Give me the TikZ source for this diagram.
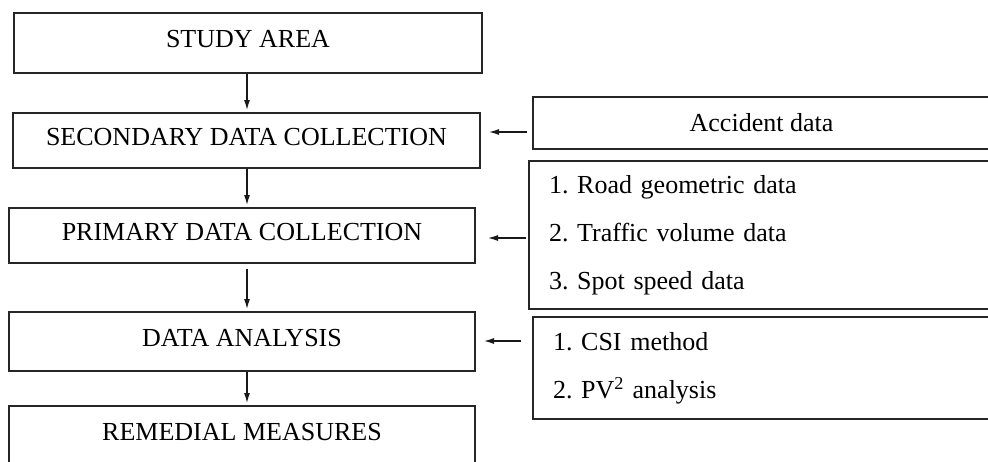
\documentclass[tikz,border=0pt]{standalone}
\usepackage{fontspec}
\setmainfont{Liberation Serif}
\frenchspacing
\usepackage{tikz}
\usetikzlibrary{
    arrows.meta,
    positioning,
    calc
}
\tikzset{
    % Base style for all boxes
    flow base/.style={
        font=\fontsize{26}{31}\selectfont,
        rectangle,
        draw=black!85,
        line width=2pt,
        inner sep=0pt,
    },
    % Stage boxes - left column
    stage/.style={
        flow base,
        align=center,
        text height=18pt,
        text depth=8pt,
        minimum width=467pt,
        minimum height=57pt,
    },
    % Input boxes - right column, single line
    input/.style={
        flow base,
        align=center,
        minimum width=457pt,
        minimum height=52pt,
    },
    % Input boxes - right column, numbered list
    input list/.style={
        flow base,
        font=\fontsize{26}{48}\selectfont,
        align=left,
        inner xsep=20pt,
    },
    % Plain arrow
    arrow/.style={
        -{Latex[length=10pt, width=6pt]},
        line width=1.2pt,
        draw=black!90,
    },
    % Side arrow from input box to stage box
    side arrow/.style={
        arrow,
        shorten >=8pt,
        shorten <=5pt,
    },
}

\begin{document}
\begin{tikzpicture}[x=1pt, y=-1pt]
    \path[use as bounding box] (0,0) rectangle (988,461);
    \clip (0,0) rectangle (988,461);

    % left column
    \node (study) [stage, minimum width=468pt, minimum height=60pt] at (248,42.5) {STUDY AREA};
    \node (secondary) [stage, minimum height=55pt] at (246.5,140.5) {SECONDARY DATA COLLECTION};
    \node (primary) [stage, minimum width=466pt, minimum height=55pt] at (242,235.5) {PRIMARY DATA COLLECTION};
    \node (analysis) [stage, minimum width=466pt, minimum height=59pt] at (242,341.5) {DATA ANALYSIS};
    \node (remedial) [stage, minimum width=466pt, minimum height=58pt] at (242,435) {REMEDIAL MEASURES};

    % right column
    \node (accident) [input] at (761.5,123) {Accident data};
    \node (roadlist) [input list, text width=421pt, minimum height=148pt] at (759.5,235)
        {1. Road geometric data\\2. Traffic volume data\\3. Spot speed data};
    \node (methodlist) [input list, text width=417pt, minimum height=102pt] at (761.5,368)
        {1. CSI method\\2. PV\textsuperscript{2} analysis};

    % arrows down the main flow
    \coordinate (axis) at (247,0);
    \draw [arrow, shorten >=2pt] (axis |- study.south) -- (axis |- secondary.north);
    \draw [arrow, shorten >=2pt] (axis |- secondary.south) -- (axis |- primary.north);
    \draw [arrow, shorten >=2pt, shorten <=5pt] (axis |- primary.south) -- (axis |- analysis.north);
    \draw [arrow, shorten >=2pt] (axis |- analysis.south) -- (axis |- remedial.north);

    % arrows from the inputs
    \draw [side arrow] ([yshift=-9pt]accident.west) -- ([yshift=-9pt]accident.west -| secondary.east);
    \draw [side arrow, shorten <=2pt, shorten >=12pt] ([yshift=-2.5pt]roadlist.west |- primary.east) -- ([yshift=-2.5pt]primary.east);
    \draw [side arrow, shorten <=11pt] ([yshift=0.5pt]methodlist.west |- analysis.east) -- ([yshift=0.5pt]analysis.east);
\end{tikzpicture}
\end{document}
